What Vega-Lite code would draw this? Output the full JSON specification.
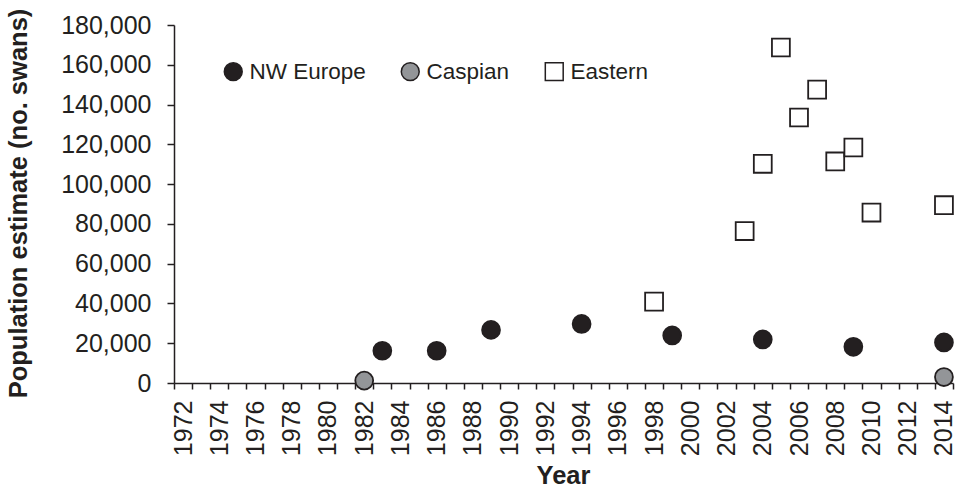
{
  "$schema": "https://vega.github.io/schema/vega-lite/v6.json",
  "autosize": {"type": "none"},
  "width": 779,
  "height": 358,
  "padding": {"left": 174, "top": 25, "right": 11, "bottom": 114},
  "background": "white",
  "config": {
    "view": {"stroke": null},
    "font": "Liberation Sans",
    "axis": {"domainColor": "#231f20", "tickColor": "#231f20", "labelColor": "#231f20", "titleColor": "#231f20", "domainWidth": 1.5, "tickWidth": 1.5, "grid": false, "labelFont": "Liberation Sans", "titleFont": "Liberation Sans"},
    "legend": {"orient": "none", "legendX": 48, "legendY": 35, "direction": "horizontal", "labelFont": "Liberation Sans", "labelFontSize": 22.5, "labelColor": "#231f20", "labelOffset": 5, "columnPadding": 32}
  },
  "data": {"values": [
    {"year": 1983, "value": 16200, "series": "NW Europe"},
    {"year": 1986, "value": 16200, "series": "NW Europe"},
    {"year": 1989, "value": 26700, "series": "NW Europe"},
    {"year": 1994, "value": 29700, "series": "NW Europe"},
    {"year": 1999, "value": 23900, "series": "NW Europe"},
    {"year": 2004, "value": 21900, "series": "NW Europe"},
    {"year": 2009, "value": 18200, "series": "NW Europe"},
    {"year": 2014, "value": 20400, "series": "NW Europe"},
    {"year": 1982, "value": 1200, "series": "Caspian"},
    {"year": 2014, "value": 3000, "series": "Caspian"},
    {"year": 1998, "value": 40900, "series": "Eastern"},
    {"year": 2003, "value": 76400, "series": "Eastern"},
    {"year": 2004, "value": 110200, "series": "Eastern"},
    {"year": 2005, "value": 168700, "series": "Eastern"},
    {"year": 2006, "value": 133500, "series": "Eastern"},
    {"year": 2007, "value": 147500, "series": "Eastern"},
    {"year": 2008, "value": 111400, "series": "Eastern"},
    {"year": 2009, "value": 118400, "series": "Eastern"},
    {"year": 2010, "value": 85700, "series": "Eastern"},
    {"year": 2014, "value": 89400, "series": "Eastern"}
  ]},
  "mark": {"type": "point", "filled": true, "stroke": "#231f20", "strokeWidth": 1.8, "opacity": 1},
  "encoding": {
    "x": {
      "field": "year", "type": "ordinal",
      "scale": {"domain": [1972,1973,1974,1975,1976,1977,1978,1979,1980,1981,1982,1983,1984,1985,1986,1987,1988,1989,1990,1991,1992,1993,1994,1995,1996,1997,1998,1999,2000,2001,2002,2003,2004,2005,2006,2007,2008,2009,2010,2011,2012,2013,2014], "paddingInner": 0, "paddingOuter": 0},
      "axis": {
        "title": "Year", "titleFontSize": 25.5, "titleFontWeight": "bold", "titleX": 389, "titleY": 100, "titleBaseline": "alphabetic", "titleAlign": "center",
        "labelAngle": 270, "labelAlign": "right", "labelBaseline": "middle", "labelFontSize": 25, "labelPadding": 11, "labelOverlap": false,
        "labelExpr": "datum.value % 2 == 0 ? datum.label : ''",
        "tickBand": "extent", "tickSize": 6
      }
    },
    "y": {
      "field": "value", "type": "quantitative",
      "scale": {"domain": [0, 180000], "nice": false},
      "axis": {
        "title": "Population estimate (no. swans)", "titleFontSize": 25.5, "titleFontWeight": "bold", "titleAngle": 270, "titleX": -148, "titleY": 178, "titleAlign": "center", "titleBaseline": "alphabetic",
        "values": [0,20000,40000,60000,80000,100000,120000,140000,160000,180000], "format": ",.0f", "labelFontSize": 25, "labelPadding": 16, "tickSize": 7
      }
    },
    "fill": {
      "field": "series", "type": "nominal",
      "scale": {"domain": ["NW Europe", "Caspian", "Eastern"], "range": ["#231f20", "#939598", "#ffffff"]},
      "legend": {"title": null, "encode": {"symbols": {"update": {"size": {"signal": "datum.value === 'Eastern' ? 135 : 180"}, "stroke": {"value": "#231f20"}, "strokeWidth": {"value": 1.8}}}}}
    },
    "shape": {
      "field": "series", "type": "nominal",
      "scale": {"domain": ["NW Europe", "Caspian", "Eastern"], "range": ["circle", "circle", "square"]},
      "legend": {"title": null, "encode": {"symbols": {"update": {"size": {"signal": "datum.value === 'Eastern' ? 135 : 180"}, "stroke": {"value": "#231f20"}, "strokeWidth": {"value": 1.8}}}}}
    },
    "size": {
      "field": "series", "type": "nominal",
      "scale": {"domain": ["NW Europe", "Caspian", "Eastern"], "range": [320, 320, 225]},
      "legend": {"title": null, "encode": {"symbols": {"update": {"size": {"signal": "datum.value === 'Eastern' ? 135 : 180"}, "stroke": {"value": "#231f20"}, "strokeWidth": {"value": 1.8}}}}}
    }
  }
}
